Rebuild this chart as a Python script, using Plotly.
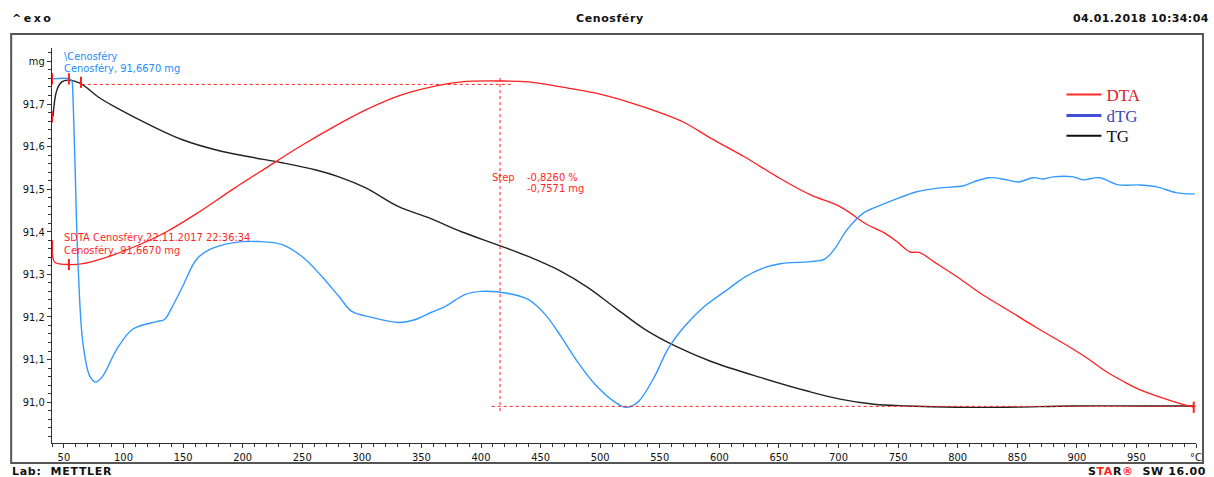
import plotly.graph_objects as go

# ---------------- data (temperature in °C, signal in mg-axis units) ----------------
tg_T = [40.8, 44.1, 48.3, 53.3, 63.4, 80.1, 94.3, 121.9, 149.5, 177.9, 205.5, 233.1,
        261.5, 280.8, 303.3, 330.9, 356.0, 383.6, 416.2, 439.6, 467.2, 489.8, 512.4,
        537.5, 565.1, 592.6, 634.4, 673.8, 701.3, 729.8, 757.4, 799.2, 841.0, 897.0,
        952.2, 998.2]
tg_mg = [91.670, 91.733, 91.752, 91.756, 91.749, 91.714, 91.691, 91.651, 91.616, 91.592,
         91.576, 91.562, 91.545, 91.529, 91.503, 91.459, 91.433, 91.400, 91.367, 91.342,
         91.307, 91.269, 91.222, 91.171, 91.129, 91.096, 91.058, 91.026, 91.007, 90.995,
         90.991, 90.988, 90.988, 90.991, 90.991, 90.991]

dta_T = [40.0, 40.8, 42.5, 55.0, 65.9, 80.1, 107.7, 136.1, 163.7, 191.3, 219.7, 247.3,
         274.9, 303.3, 330.9, 358.5, 383.6, 416.2, 439.6, 467.2, 495.6, 523.2, 550.8,
         570.9, 592.6, 621.0, 648.6, 676.2, 701.3, 723.9, 738.1, 749.0, 759.8, 768.2,
         779.9, 799.1, 818.4, 840.9, 868.5, 897.0, 910.3, 924.5, 938.8, 952.1, 980.6, 998.1]
dta_val = [91.367, 91.339, 91.328, 91.323, 91.325, 91.335, 91.363, 91.400, 91.447, 91.499,
           91.550, 91.599, 91.644, 91.686, 91.719, 91.740, 91.752, 91.754, 91.752, 91.740,
           91.726, 91.705, 91.679, 91.656, 91.620, 91.576, 91.529, 91.487, 91.459, 91.417,
           91.398, 91.377, 91.353, 91.351, 91.330, 91.295, 91.257, 91.218, 91.171, 91.124,
           91.100, 91.072, 91.049, 91.030, 91.002, 90.988]

dtg_T = [40.0, 55.0, 56.7, 57.5, 59.2, 61.7, 65.9, 71.7, 76.8, 82.6, 94.3, 107.7, 127.8,
         134.4, 141.1, 149.5, 161.2, 172.1, 191.3, 213.9, 233.1, 249.8, 266.5, 280.8,
         291.6, 308.4, 330.9, 345.1, 358.5, 370.2, 386.9, 400.3, 422.9, 439.6, 453.8,
         467.2, 481.4, 495.6, 512.4, 521.6, 531.6, 545.8, 556.7, 570.9, 587.6, 606.8,
         621.0, 637.8, 651.1, 676.2, 687.9, 696.3, 707.2, 721.4, 729.8, 746.5, 765.7,
         784.9, 805.0, 813.3, 826.7, 840.9, 851.0, 863.5, 871.9, 880.2, 897.0, 905.3,
         918.7, 935.4, 952.1, 966.4, 983.1, 999.0]
dtg_val = [91.759, 91.759, 91.754, 91.721, 91.569, 91.335, 91.140, 91.061, 91.047, 91.061,
           91.124, 91.171, 91.189, 91.194, 91.225, 91.271, 91.335, 91.358, 91.374, 91.377,
           91.370, 91.342, 91.295, 91.248, 91.213, 91.199, 91.187, 91.194, 91.211, 91.225,
           91.253, 91.260, 91.255, 91.241, 91.206, 91.154, 91.093, 91.042, 91.000, 90.988,
           91.000, 91.061, 91.124, 91.178, 91.225, 91.264, 91.293, 91.316, 91.325, 91.330,
           91.335, 91.358, 91.405, 91.445, 91.456, 91.475, 91.494, 91.503, 91.508, 91.517,
           91.527, 91.522, 91.517, 91.527, 91.524, 91.529, 91.529, 91.522, 91.527, 91.510,
           91.510, 91.506, 91.492, 91.489]

# step evaluation (TG)
step_T = 416.0
step_top_mg = 91.746
step_bottom_mg = 90.990
step_v_range = [91.761, 90.972]
step_top_span = [65.0, 425.0]
step_bottom_span = [409.0, 1000.0]

# evaluation limit brackets
bracket_T = [40.0, 54.2, 64.3, 40.0, 40.0, 54.2, 998.1]
bracket_mg = [91.759, 91.759, 91.751, 91.670, 91.367, 91.323, 90.988]

x_tickvals = [50, 100, 150, 200, 250, 300, 350, 400, 450, 500, 550, 600, 650, 700, 750,
              800, 850, 900, 950, 1000]
x_ticktext = ["50", "100", "150", "200", "250", "300", "350", "400", "450", "500", "550",
              "600", "650", "700", "750", "800", "850", "900", "950", "°C"]
y_tickvals = [91.0, 91.1, 91.2, 91.3, 91.4, 91.5, 91.6, 91.7, 91.8]
y_ticktext = ["91,0", "91,1", "91,2", "91,3", "91,4", "91,5", "91,6", "91,7", "mg"]

legend_names = ["DTA", "dTG", "TG"]

# ---------------- styling ----------------
RED = "#ff1f1f"
BLUE = "#3399ff"
TG_COLOR = "#222222"
SMALL_FONT = "Liberation Sans Narrow, DejaVu Sans Condensed, Arial Narrow, sans-serif"
HEAD_FONT = "DejaVu Sans, Arial, sans-serif"
SMOOTH = 1.0

fig = go.Figure()

fig.add_trace(go.Scatter(x=tg_T, y=tg_mg, mode="lines", line=dict(color=TG_COLOR, width=1.4,
                         shape="spline", smoothing=SMOOTH), showlegend=False))
fig.add_trace(go.Scatter(x=dta_T, y=dta_val, mode="lines", line=dict(color=RED, width=1.3,
                         shape="spline", smoothing=SMOOTH), showlegend=False))
fig.add_trace(go.Scatter(x=dtg_T, y=dtg_val, mode="lines", line=dict(color=BLUE, width=1.4,
                         shape="spline", smoothing=SMOOTH), showlegend=False))

# step construction lines
fig.add_trace(go.Scatter(x=[step_T, step_T], y=step_v_range, mode="lines",
                         line=dict(color=RED, width=1, dash="dot"), showlegend=False))
fig.add_trace(go.Scatter(x=step_top_span, y=[step_top_mg, step_top_mg], mode="lines",
                         line=dict(color=RED, width=1, dash="dot"), showlegend=False))
fig.add_trace(go.Scatter(x=step_bottom_span, y=[step_bottom_mg, step_bottom_mg], mode="lines",
                         line=dict(color=RED, width=1, dash="dot"), showlegend=False,
                         cliponaxis=False))
fig.add_trace(go.Scatter(x=bracket_T, y=bracket_mg, mode="markers",
                         marker=dict(symbol="line-ns", size=8, line=dict(color=RED, width=2)),
                         showlegend=False, cliponaxis=False))

# legend entries (one small legend per row, to match the row spacing)
legend_line_colors = ["#ff2a2a", "#3f4fd8", "#111111"]
legend_text_colors = ["#d8202a", "#3b48b8", "#111111"]
legend_widths = [2, 3, 2]
legend_ids = ["legend", "legend2", "legend3"]
legend_rows_y = [0.881, 0.828, 0.777]
for nm, lc, tc, lw, lid in zip(legend_names, legend_line_colors, legend_text_colors,
                               legend_widths, legend_ids):
    fig.add_trace(go.Scatter(x=[None], y=[None], mode="lines", line=dict(color=lc, width=lw),
                             name=f"<span style='color:{tc}'>{nm}</span>", legend=lid))

annotations = [
    dict(x=48.3, y=91.812, xref="x", yref="y", text="\\Cenosféry", showarrow=False,
         xanchor="left", yanchor="middle", font=dict(family=SMALL_FONT, size=11, color="#1e8cff")),
    dict(x=48.3, y=91.784, xref="x", yref="y", text="Cenosféry, 91,6670 mg", showarrow=False,
         xanchor="left", yanchor="middle", font=dict(family=SMALL_FONT, size=11, color="#1e8cff")),
    dict(x=48.3, y=91.386, xref="x", yref="y", text="SDTA Cenosféry,22.11.2017 22:36:34",
         showarrow=False, xanchor="left", yanchor="middle",
         font=dict(family=SMALL_FONT, size=11, color=RED)),
    dict(x=48.3, y=91.356, xref="x", yref="y", text="Cenosféry, 91,6670 mg", showarrow=False,
         xanchor="left", yanchor="middle", font=dict(family=SMALL_FONT, size=11, color=RED)),
    dict(x=418.8, y=91.527, xref="x", yref="y", text="Step", showarrow=False,
         xanchor="center", yanchor="middle", font=dict(family=SMALL_FONT, size=11, color=RED)),
    dict(x=437.2, y=91.527, xref="x", yref="y", text="-0,8260 %", showarrow=False,
         xanchor="left", yanchor="middle", font=dict(family=SMALL_FONT, size=11, color=RED)),
    dict(x=437.2, y=91.501, xref="x", yref="y", text="-0,7571 mg", showarrow=False,
         xanchor="left", yanchor="middle", font=dict(family=SMALL_FONT, size=11, color=RED)),
    # header / footer
    dict(x=-0.0366, y=1.0759, xref="paper", yref="paper",
         text="<b><span style='letter-spacing:2.5px'>^exo</span></b>", showarrow=False,
         xanchor="left", yanchor="middle", font=dict(family=HEAD_FONT, size=11, color="#111")),
    dict(x=0.4878, y=1.0759, xref="paper", yref="paper",
         text="<b><span style='letter-spacing:0.6px'>Cenosféry</span></b>", showarrow=False,
         xanchor="center", yanchor="middle", font=dict(family=HEAD_FONT, size=11, color="#111")),
    dict(x=1.0131, y=1.0759, xref="paper", yref="paper",
         text="<b><span style='letter-spacing:0.4px'>04.01.2018 10:34:04</span></b>",
         showarrow=False, xanchor="right", yanchor="middle",
         font=dict(family=HEAD_FONT, size=11, color="#111")),
    dict(x=-0.0366, y=-0.0709, xref="paper", yref="paper",
         text="<b><span style='letter-spacing:0.7px'>Lab:  METTLER</span></b>",
         showarrow=False, xanchor="left", yanchor="middle",
         font=dict(family=HEAD_FONT, size=11, color="#111")),
    dict(x=1.0105, y=-0.0709, xref="paper", yref="paper",
         text="<b><span style='letter-spacing:0.6px'>S<span style='color:#ff2020'>TA</span>R<span style='color:#ff2020'>®</span>  SW 16.00</span></b>",
         showarrow=False, xanchor="right", yanchor="middle",
         font=dict(family=HEAD_FONT, size=11, color="#111")),
]

legend_common = dict(xanchor="left", yanchor="middle", bgcolor="rgba(0,0,0,0)", borderwidth=0,
                     font=dict(family="Liberation Serif, Times New Roman, serif", size=17),
                     itemwidth=35)

fig.update_layout(
    width=1214, height=477,
    margin=dict(l=52, r=14, t=48, b=34),
    paper_bgcolor="white", plot_bgcolor="white",
    separators=",.",
    showlegend=True,
    legend=dict(x=0.8824, y=legend_rows_y[0], **legend_common),
    legend2=dict(x=0.8824, y=legend_rows_y[1], **legend_common),
    legend3=dict(x=0.8824, y=legend_rows_y[2], **legend_common),
    annotations=annotations,
    shapes=[dict(type="rect", xref="paper", yref="paper", x0=-0.0357, x1=1.0061,
                 y0=-0.0506, y1=1.0354, line=dict(color="#555555", width=2), layer="below")],
    xaxis=dict(range=[40, 1000], tickmode="array", tickvals=x_tickvals, ticktext=x_ticktext,
               showgrid=False, zeroline=False, showline=True, linecolor="#333", linewidth=1,
               ticks="outside", ticklen=4, tickcolor="#333",
               tickfont=dict(family="DejaVu Sans Condensed, DejaVu Sans, sans-serif", size=11, color="#111"),
               minor=dict(dtick=10, tick0=0, ticks="outside", ticklen=3, tickcolor="#333")),
    yaxis=dict(range=[90.904, 91.8315], tickmode="array", tickvals=y_tickvals, ticktext=y_ticktext,
               showgrid=False, zeroline=False, showline=True, linecolor="#333", linewidth=1,
               ticks="outside", ticklen=4, tickcolor="#333",
               tickfont=dict(family="DejaVu Sans Condensed, DejaVu Sans, sans-serif", size=11, color="#111"),
               minor=dict(dtick=0.02, tick0=91.0, ticks="outside", ticklen=3, tickcolor="#333")),
)

fig.write_html("out.html")
